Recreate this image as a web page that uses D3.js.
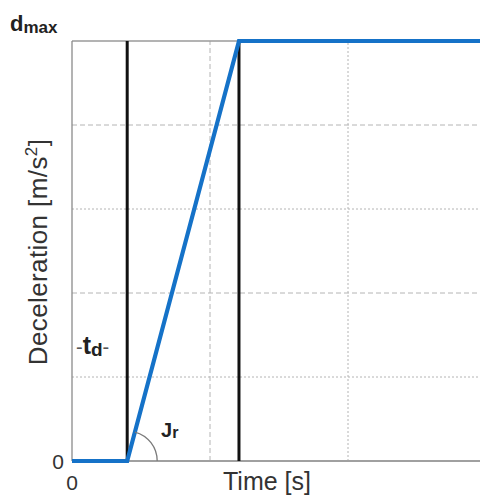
<!DOCTYPE html>
<html>
<head>
<meta charset="utf-8">
<script src="https://cdn.jsdelivr.net/npm/d3@7"></script>
<style>
  html, body { margin: 0; padding: 0; background: #fff; }
  svg { display: block; font-family: "Liberation Sans", Arial, sans-serif; }
</style>
</head>
<body>
<svg id="chart" width="480" height="495"></svg>
<script>
// ---- data ----
const timePoints = [0, 0.4, 1.21, 3];      // s
const decelValues = [0, 0, 5, 5];          // deceleration (d_max = 5 units)
const markerTimes = [0.4, 1.21];           // black vertical markers (t_d, end of ramp)
const xGridTicks = [1, 2];
const yGridTicks = [1, 2, 3, 4];
const xTickLabels = ["0"];
const yTickLabels = ["0"];
const xDomain = [0, 3];
const yDomain = [0, 5];

// ---- layout ----
const svg = d3.select("#chart");
const m = { left: 72, top: 41, bottom: 461, right: 486 };
const x = d3.scaleLinear().domain(xDomain).range([m.left, m.right]);
const y = d3.scaleLinear().domain(yDomain).range([m.bottom, m.top]);

// grid lines
const grid = svg.append("g");
grid.selectAll("line.h").data(yGridTicks).join("line")
  .attr("x1", x(xDomain[0])).attr("x2", x(xDomain[1]))
  .attr("y1", d => y(d)).attr("y2", d => y(d))
  .attr("stroke", "#b4b4b4").attr("stroke-width", 1)
  .attr("stroke-dasharray", (d, i) => i % 2 === 0 ? "2,2" : "5,3");
grid.selectAll("line.v").data(xGridTicks).join("line")
  .attr("y1", y(yDomain[0])).attr("y2", y(yDomain[1]))
  .attr("x1", d => x(d)).attr("x2", d => x(d))
  .attr("stroke", "#b4b4b4").attr("stroke-width", 1)
  .attr("stroke-dasharray", (d, i) => i % 2 === 0 ? "5,3" : "2,2");

// frame: top border, left axis, bottom axis
svg.append("line").attr("x1", x(0)).attr("x2", x(xDomain[1]))
  .attr("y1", y(yDomain[1])).attr("y2", y(yDomain[1]))
  .attr("stroke", "#9a9a9a").attr("stroke-width", 1.3);
svg.append("line").attr("x1", x(0)).attr("x2", x(0))
  .attr("y1", y(0)).attr("y2", y(yDomain[1]))
  .attr("stroke", "#8a8a8a").attr("stroke-width", 1.3);
svg.append("line").attr("x1", x(0)).attr("x2", x(xDomain[1]))
  .attr("y1", y(0)).attr("y2", y(0))
  .attr("stroke", "#a0a0a0").attr("stroke-width", 2);

// black marker lines
svg.selectAll("line.marker").data(markerTimes).join("line")
  .attr("x1", d => x(d)).attr("x2", d => x(d))
  .attr("y1", y(0)).attr("y2", y(yDomain[1]))
  .attr("stroke", "#111").attr("stroke-width", 3);

// blue deceleration profile
const pts = timePoints.map((t, i) => [t, decelValues[i]]);
svg.append("path").datum(pts)
  .attr("d", d3.line().x(d => x(d[0])).y(d => y(d[1])))
  .attr("fill", "none").attr("stroke", "#1572c8").attr("stroke-width", 4.2)
  .attr("stroke-linejoin", "miter");

// jerk angle arc at the foot of the ramp
const fx = x(timePoints[1]), fy = y(decelValues[1]);
const tx = x(timePoints[2]), ty = y(decelValues[2]);
const lineAng = Math.atan2(ty - fy, tx - fx);
const p = d3.path();
p.arc(fx, fy, 30, lineAng, 0, false);
svg.append("path").attr("d", p.toString())
  .attr("fill", "none").attr("stroke", "#7a7a7a").attr("stroke-width", 1.3);

// tick labels
svg.selectAll("text.xt").data(xTickLabels).join("text")
  .attr("x", x(0)).attr("y", 490).attr("text-anchor", "middle")
  .attr("font-size", 21).attr("fill", "#333").text(d => d);
svg.selectAll("text.yt").data(yTickLabels).join("text")
  .attr("x", 64).attr("y", y(0) + 8).attr("text-anchor", "end")
  .attr("font-size", 21).attr("fill", "#333").text(d => d);

// axis titles
svg.append("text").attr("x", 223).attr("y", 490)
  .attr("font-size", 25).attr("fill", "#333").text("Time [s]");
const yl = svg.append("text")
  .attr("transform", "translate(47,252) rotate(-90)")
  .attr("text-anchor", "middle").attr("font-size", 26)
  .attr("letter-spacing", 0.4).attr("fill", "#333");
yl.append("tspan").text("Deceleration [m/s");
yl.append("tspan").attr("font-size", 17).attr("dy", -10).text("2");
yl.append("tspan").attr("dy", 10).text("]");

// annotations
const dm = svg.append("text").attr("x", 10).attr("y", 31)
  .attr("font-weight", "bold").attr("fill", "#222");
dm.append("tspan").attr("font-size", 22).text("d");
dm.append("tspan").attr("font-size", 17).attr("dy", 2).text("max");

const td = svg.append("text").attr("x", 76).attr("y", 354).attr("fill", "#555");
td.append("tspan").attr("font-size", 20).text("-");
td.append("tspan").attr("font-size", 25).attr("font-weight", "bold").attr("fill", "#222").text("t");
td.append("tspan").attr("font-size", 19).attr("font-weight", "bold").attr("fill", "#222").attr("dy", 2).text("d");
td.append("tspan").attr("font-size", 20).attr("dy", -2).text("-");

const jr = svg.append("text").attr("x", 161).attr("y", 437)
  .attr("font-weight", "bold").attr("fill", "#222");
jr.append("tspan").attr("font-size", 20).text("J");
jr.append("tspan").attr("font-size", 16).attr("dy", 1).text("r");
</script>
</body>
</html>
